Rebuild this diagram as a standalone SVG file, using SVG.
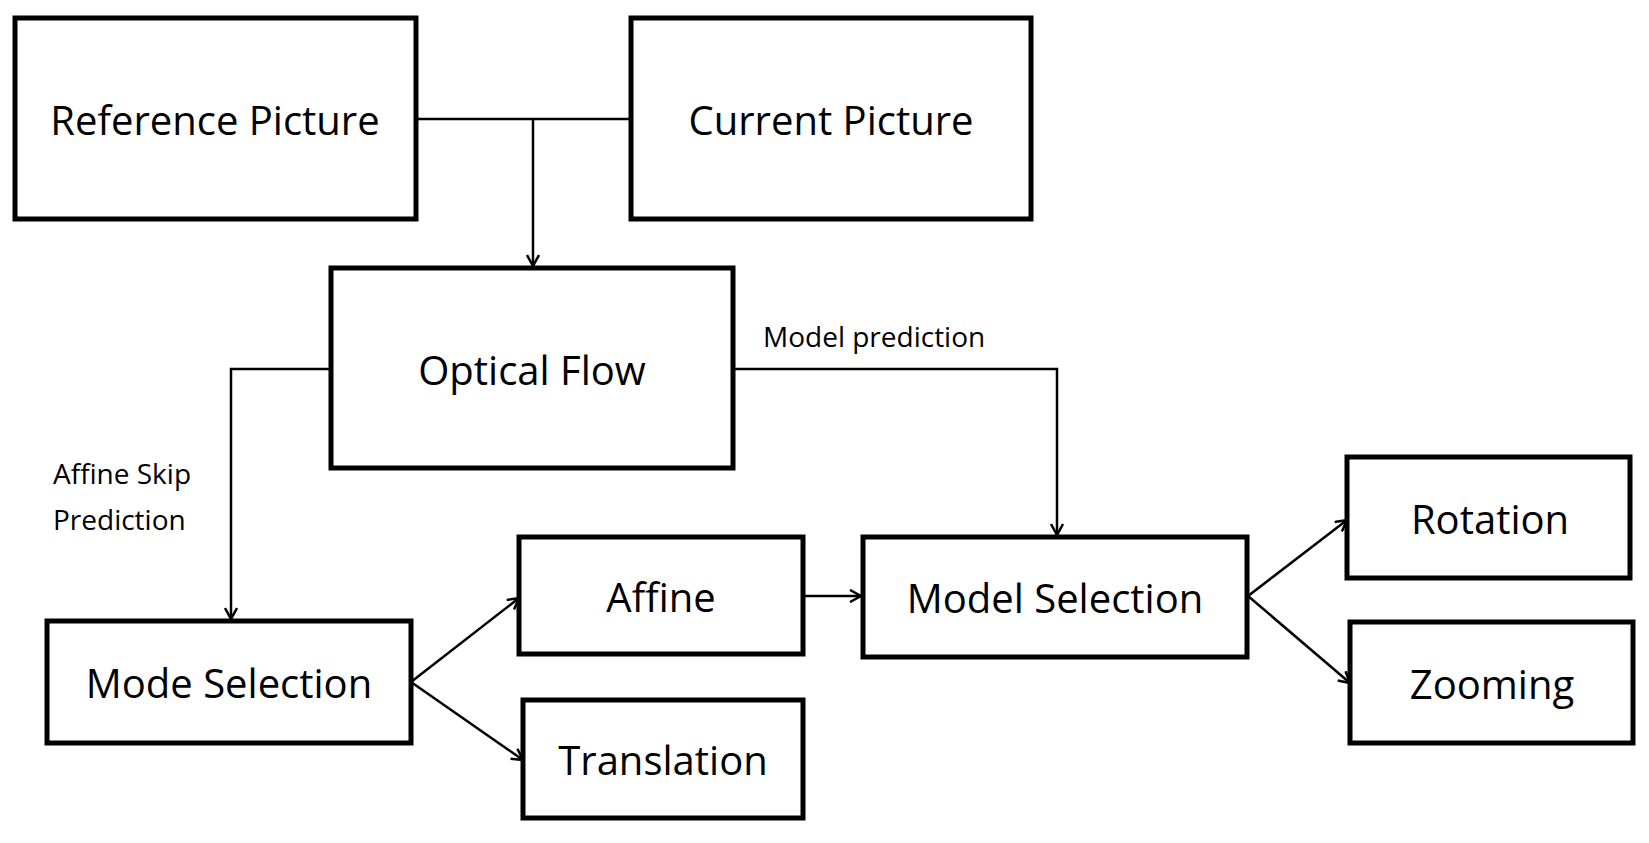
<svg xmlns="http://www.w3.org/2000/svg" width="1649" height="843" viewBox="0 0 1649 843">
<style>
.b{fill:#fff;stroke:#000;stroke-width:5}
.t{font-family:"Open Sans","Liberation Sans",sans-serif;font-size:40px;text-anchor:middle;dominant-baseline:central}
.s{font-family:"Open Sans","Liberation Sans",sans-serif;font-size:28px}
.c{fill:none;stroke:#000;stroke-width:2.5}
</style>
<defs><marker id="a" markerWidth="14" markerHeight="14" refX="12" refY="7" orient="auto" markerUnits="userSpaceOnUse"><path d="M1,1 L12,7 L1,13" fill="none" stroke="#000" stroke-width="2.5"/></marker></defs>
<rect width="1649" height="843" fill="#fff"/>
<g id="connectors">
<path class="c" d="M416,119 H631"/>
<path class="c" d="M533,119 V266" marker-end="url(#a)"/>
<path class="c" d="M331,369 H231 V619" marker-end="url(#a)"/>
<path class="c" d="M733,369 H1057 V535" marker-end="url(#a)"/>
<path class="c" d="M411,682 L519,598" marker-end="url(#a)"/>
<path class="c" d="M411,682 L523,760" marker-end="url(#a)"/>
<path class="c" d="M803,596 H861" marker-end="url(#a)"/>
<path class="c" d="M1248,596 L1347,520" marker-end="url(#a)"/>
<path class="c" d="M1248,596 L1350,683" marker-end="url(#a)"/>
<text class="s" x="763" y="347">Model prediction</text>
<text class="s" x="53" y="484">Affine Skip</text>
<text class="s" x="53" y="530">Prediction</text>
</g>
<g id="ref"><rect class="b" x="15" y="18" width="401" height="201"/><text class="t" x="215" y="119">Reference Picture</text></g>
<g id="cur"><rect class="b" x="631" y="18" width="400" height="201"/><text class="t" x="831" y="119">Current Picture</text></g>
<g id="of"><rect class="b" x="331" y="268" width="402" height="200"/><text class="t" x="532" y="369">Optical Flow</text></g>
<g id="mode"><rect class="b" x="47" y="621" width="364" height="122"/><text class="t" x="229" y="682">Mode Selection</text></g>
<g id="affine"><rect class="b" x="519" y="537" width="284" height="117"/><text class="t" x="661" y="596">Affine</text></g>
<g id="trans"><rect class="b" x="523" y="700" width="280" height="118"/><text class="t" x="663" y="759">Translation</text></g>
<g id="model"><rect class="b" x="863" y="537" width="384" height="120"/><text class="t" x="1055" y="597">Model Selection</text></g>
<g id="rot"><rect class="b" x="1347" y="457" width="283" height="121"/><text class="t" x="1490" y="518">Rotation</text></g>
<g id="zoom"><rect class="b" x="1350" y="622" width="283" height="121"/><text class="t" x="1492" y="683">Zooming</text></g>
</svg>
